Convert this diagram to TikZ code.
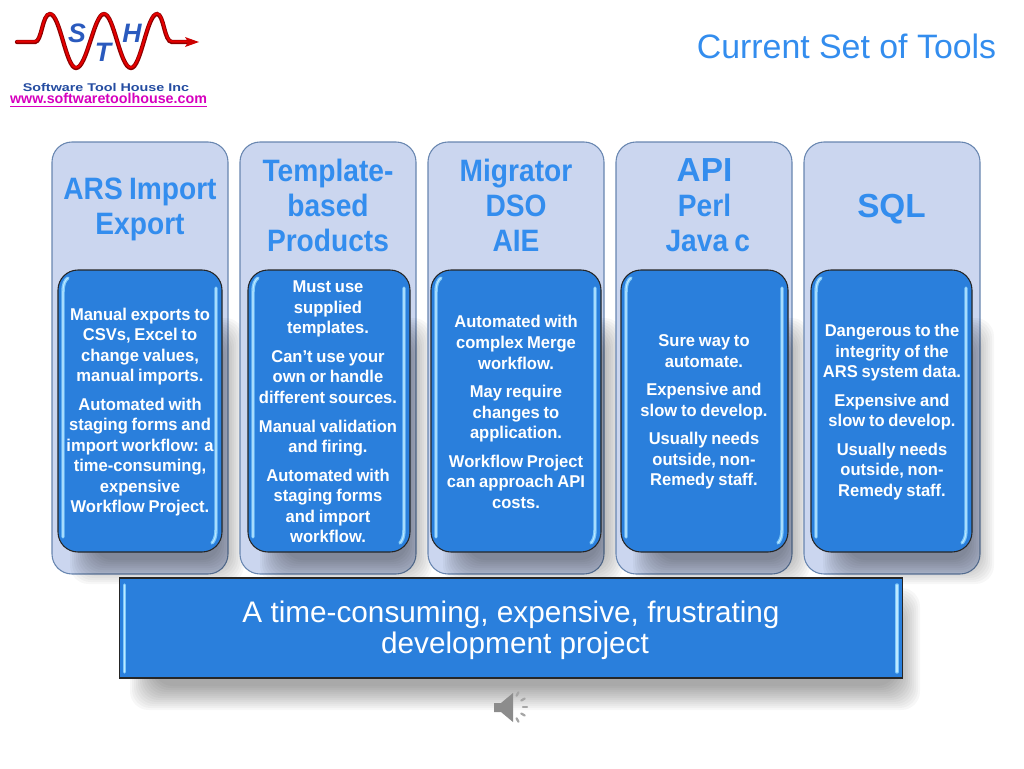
\documentclass[tikz,border=0pt]{standalone}
\usepackage{fontspec}
\usetikzlibrary{calc}
\setmainfont{Liberation Sans}
\newfontfamily\narrowbf[FakeStretch=0.91,WordSpace=0.8]{Liberation Sans Bold}
\newfontfamily\bodybf[FakeStretch=0.97,WordSpace=0.82]{Liberation Sans Bold}
\newfontfamily\widebf[FakeStretch=1.28]{Liberation Sans Bold}
\newfontfamily\plainbf{Liberation Sans Bold}
\definecolor{headblue}{RGB}{51,141,238}
\definecolor{panelblue}{RGB}{203,214,239}
\definecolor{paneledge}{RGB}{104,134,176}
\definecolor{boxblue}{RGB}{42,127,220}
\definecolor{glint}{RGB}{125,200,250}
\definecolor{glintcore}{RGB}{190,232,255}
\definecolor{logoblue}{RGB}{42,90,190}
\tikzset{
  panelbox/.style={draw=paneledge,fill=panelblue,line width=0.8pt,rounded corners=15},
  toolbox/.style={draw=black!85,fill=boxblue,line width=0.8pt,rounded corners=15},
  barbox/.style={draw=black!85,fill=boxblue,line width=0.8pt},
  headtext/.style={text=headblue,align=center,font=\narrowbf\fontsize{23.2}{26.3}\selectfont},
  bodytext/.style={text=white,align=center,font=\bodybf\fontsize{12.8}{15.4}\selectfont,inner sep=0pt},
  logoletter/.style={text=logoblue,inner sep=0pt,font=\plainbf\itshape\fontsize{20}{20}\selectfont},
  glintline/.style={glint,line width=2.6pt,line cap=round,
    postaction={draw=glintcore,line width=0.8pt}},
}
% soft shadow from stacked see-through rectangles
\newcommand{\softshadow}[4]{%
  \foreach \g in {12,10,...,-12}
    \fill[black,opacity=0.03,rounded corners=14] ({#1-\g},{#2-\g}) rectangle ({#3+\g},{#4+\g});
}
% panel, shadow and blue box of one column: panel left #1, box from #3 to #4
\newcommand{\toolcolumn}[4]{%
  \draw[panelbox] (#1,142) rectangle ({#1+176},574);
  \softshadow{#3+24}{330}{#4+10}{572}
  \draw[toolbox] (#3,270) rectangle (#4,552) node[midway,inner sep=0pt] (#2) {};
  \draw[glintline] ({#3+10},278) .. controls ({#3+7},280) and ({#3+5},284) .. ({#3+5},292) -- ({#3+5},537);
  \draw[glintline] ({#4-6},288) -- ({#4-6},530) .. controls ({#4-6},537) and ({#4-8},541) .. ({#4-10},543);
}
\begin{document}
\begin{tikzpicture}[x=0.75pt,y=0.75pt,yscale=-1,xscale=1]
\useasboundingbox (0,0) rectangle (1024,768);

% Columns
\toolcolumn{52}{boxA}{58}{222}
\toolcolumn{240}{boxB}{248}{410}
\toolcolumn{428}{boxC}{431}{601}
\toolcolumn{616}{boxD}{621}{788}
\toolcolumn{804}{boxE}{811}{972}

% Bottom bar
\softshadow{142}{600}{908}{698}
\node[barbox,minimum width=587pt,minimum height=75pt,inner sep=0pt] (barbox) at (511,628) {};
\draw[glintline] (124.5,585) -- (124.5,672);
\draw[glintline] (897,585) -- (897,672);

% Text Node
\node[text=headblue,font=\fontsize{25.4}{28}\selectfont,inner sep=0pt] (titletext) at (846.5,46) {Current Set of Tools};
% Text Node
\node[headtext] (headA) at (140,209.5) {ARS Import\\Export};
\node[headtext] (headB) at (328,205.5) {Template-\\based\\Products};
\node[headtext] (headC) at (516,205.5) {Migrator\\DSO\\AIE};
\node[headtext] (headD) at (704.5,205.5) {{\plainbf\fontsize{25}{26.3}\selectfont API}\\Perl\\\hspace{5pt}Java c};
\node[headtext,font=\plainbf\fontsize{25}{28}\selectfont] (headE) at (891.5,209.5) {SQL};

% Text Node
\node[bodytext] (textA) at (140,412) {Manual exports to\\CSVs, Excel to\\change values,\\manual imports.\\[6pt]Automated with\\staging forms and\\import workflow: a\\time-consuming,\\expensive\\Workflow Project.};
\node[bodytext] (textB) at (328,412) {Must use\\supplied\\templates.\\[6pt]Can’t use your\\own or handle\\different sources.\\[6pt]Manual validation\\and firing.\\[6pt]Automated with\\staging forms\\and import\\workflow.};
\node[bodytext] (textC) at (516,412) {Automated with\\complex Merge\\workflow.\\[6pt]May require\\changes to\\application.\\[6pt]Workflow Project\\can approach API\\costs.};
\node[bodytext] (textD) at (704,412) {Sure way to\\automate.\\[6pt]Expensive and\\slow to develop.\\[6pt]Usually needs\\outside, non-\\Remedy staff.};
\node[bodytext] (textE) at (892,412) {Dangerous to the\\integrity of the\\ARS system data.\\[6pt]Expensive and\\slow to develop.\\[6pt]Usually needs\\outside, non-\\Remedy staff.};
% Text Node
\node[text=white,align=center,font=\fontsize{22.3}{23.3}\selectfont,inner sep=0pt] (bartext) at (511,630) {A time-consuming, expensive, frustrating\\\hspace{6pt}development project};

% Logo wave
\draw[red!55!black,line width=3.2pt,line cap=round] (17,42) -- (35,42) .. controls (42,42) and (42,14) .. (50,14) .. controls (60,14) and (66,68) .. (76,68) .. controls (87,68) and (94,14) .. (104,14) .. controls (114,14) and (120,68) .. (131,68) .. controls (141,68) and (147,14) .. (157,14) .. controls (164,14) and (164,42) .. (172,42) -- (192,42);
\draw[red!90!black,line width=1.6pt,line cap=round] (17,41.5) -- (35,41.5) .. controls (42,41.5) and (42,13.5) .. (50,13.5) .. controls (60,13.5) and (66,67.5) .. (76,67.5) .. controls (87,67.5) and (94,13.5) .. (104,13.5) .. controls (114,13.5) and (120,67.5) .. (131,67.5) .. controls (141,67.5) and (147,13.5) .. (157,13.5) .. controls (164,13.5) and (164,41.5) .. (172,41.5) -- (192,41.5);
\fill[red!80!black] (199,42) -- (185,37) -- (188,42) -- (185,47) -- cycle;
\node[logoletter] (logoS) at (77,33) {S};
\node[logoletter] (logoT) at (103,52) {T};
\node[logoletter] (logoH) at (132,33) {H};
\node[text=logoblue!85!black,inner sep=0pt,font=\widebf\fontsize{8.4}{9}\selectfont] (logoname) at (106,87.5) {Software Tool House Inc};
\node[text={rgb,255:red,214;green,0;blue,190},inner sep=0pt,font=\plainbf\fontsize{10.7}{11}\selectfont] (logourl) at (108.5,100) {\underline{www.softwaretoolhouse.com}};

% Speaker
\fill[black!45] (494,703) -- (501,703) -- (513,693) -- (513,722) -- (501,712) -- (494,712) -- cycle;
\foreach \a in {-60,-30,0,30,60}
  \draw[black!35,line width=1.7pt,line cap=round] ($(510,707)+(\a:13)$) -- ($(510,707)+(\a:17)$);
\end{tikzpicture}
\end{document}
